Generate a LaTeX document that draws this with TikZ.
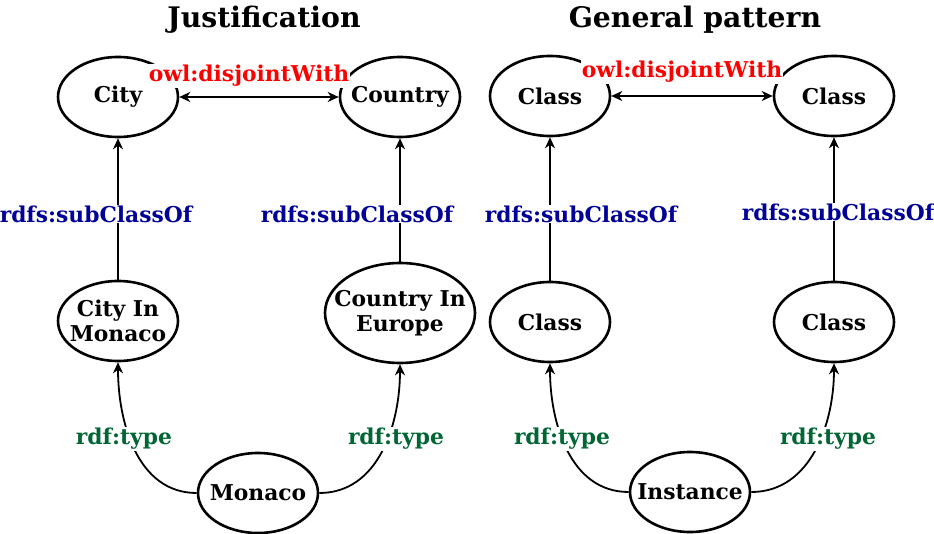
\documentclass[tikz,border=0pt]{standalone}
\usepackage{fontspec}
\setmainfont{DejaVu Serif}
\usetikzlibrary{shapes.geometric,arrows.meta}
\definecolor{relblue}{RGB}{0,0,153}
\definecolor{relgreen}{RGB}{0,102,51}
\definecolor{relred}{RGB}{255,0,0}
\begin{document}
\begin{tikzpicture}[x=1pt,y=-1pt,
  cls/.style={ellipse,draw,line width=2.6pt,minimum width=120pt,minimum height=80pt,inner xsep=-45pt,inner ysep=-20pt,font=\fontsize{21.8}{25}\selectfont\bfseries,align=center},
  ttl/.style={font=\fontsize{28.3}{32}\selectfont\bfseries},
  lbl/.style={fill=white,inner sep=1pt,font=\fontsize{21.8}{25}\selectfont\bfseries},
  sub/.style={lbl,text=relblue},
  typ/.style={lbl,text=relgreen},
  dis/.style={lbl,text=relred},
  rel/.style={line width=1.8pt,-{Stealth[length=11pt,width=10pt,inset=3.5pt]}},
  relboth/.style={line width=1.8pt,{Stealth[length=11pt,width=10pt,inset=3.5pt]}-{Stealth[length=11pt,width=10pt,inset=3.5pt]}}]
\useasboundingbox (0,0) rectangle (934,534);
% titles
\node[ttl] (t1) at (264,20) {Justification};
\node[ttl] (t2) at (695,20) {General pattern};
% left panel
\node[cls] (city) at (118,97) {City};
\node[cls] (country) at (400,97) {Country};
\node[cls] (cim) at (118,321) {City In\\Monaco};
\node[cls,minimum width=150pt,minimum height=100pt] (cie) at (400,313) {Country In\\Europe};
\node[cls] (monaco) at (258,493) {Monaco};
\draw[relboth] (city) -- (country);
\draw[rel] (cim) -- (city);
\draw[rel] (cie) -- (country);
\draw[rel] (monaco.west) to[out=180,in=-90] (cim.south);
\draw[rel] (monaco.east) to[out=0,in=-90] (cie.south);
\node[dis] (d1) at (249,76) {owl:disjointWith};
\node[sub] (s1) at (96,214) {rdfs:subClassOf};
\node[sub] (s2) at (357,214) {rdfs:subClassOf};
\node[typ] (y1) at (124,439) {rdf:type};
\node[typ] (y2) at (396,439) {rdf:type};
% right panel
\node[cls] (c1) at (550,96) {Class};
\node[cls] (c2) at (834,96) {Class};
\node[cls] (c3) at (550,322) {Class};
\node[cls] (c4) at (834,322) {Class};
\node[cls] (inst) at (690,492) {Instance};
\draw[relboth] (c1) -- (c2);
\draw[rel] (c3) -- (c1);
\draw[rel] (c4) -- (c2);
\draw[rel] (inst.west) to[out=180,in=-90] (c3.south);
\draw[rel] (inst.east) to[out=0,in=-90] (c4.south);
\node[dis] (d2) at (682,72) {owl:disjointWith};
\node[sub] (s3) at (581,214) {rdfs:subClassOf};
\node[sub] (s4) at (838,212) {rdfs:subClassOf};
\node[typ] (y3) at (562,439) {rdf:type};
\node[typ] (y4) at (828,439) {rdf:type};
\end{tikzpicture}
\end{document}
